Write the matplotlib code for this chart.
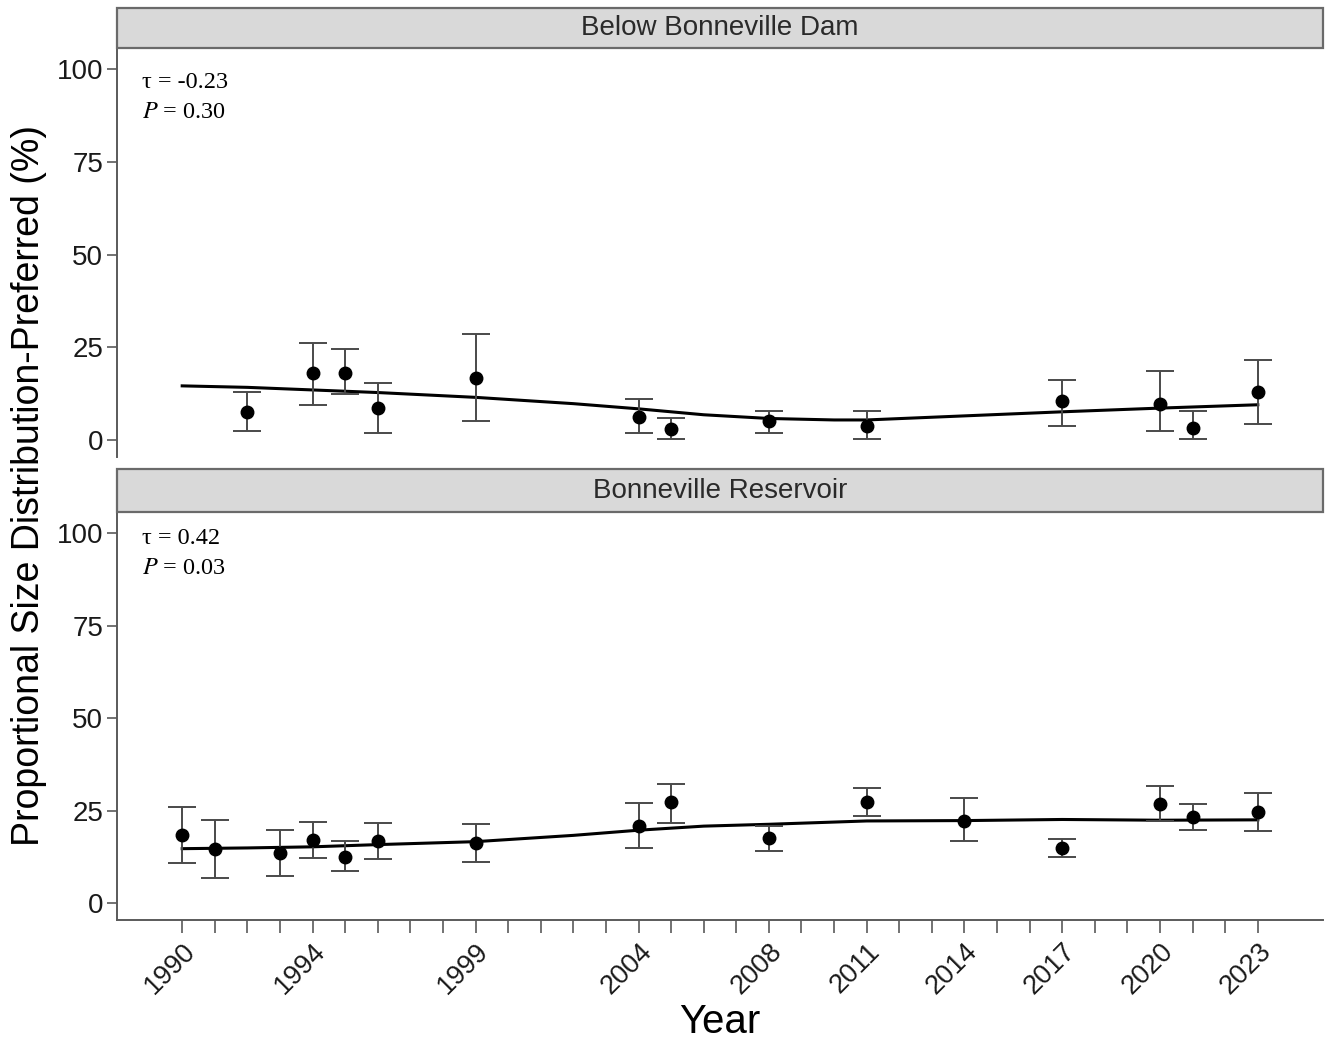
import numpy as np
import matplotlib
matplotlib.use('Agg')
import matplotlib.pyplot as plt
from matplotlib.patches import Rectangle
from matplotlib.ticker import FixedLocator

plt.rcParams['font.family'] = ['Liberation Sans', 'DejaVu Sans']
plt.rcParams['mathtext.fontset'] = 'stix'

# ---------------- data ----------------
panels = ['Below Bonneville Dam', 'Bonneville Reservoir']
tau_txt = ['-0.23', '0.42']
p_txt = ['0.30', '0.03']

# Below Bonneville Dam
yr_dam = [1992, 1994, 1995, 1996, 1999, 2004, 2005, 2008, 2011, 2017, 2020, 2021, 2023]
psd_dam = [7.6, 18.2, 18.2, 8.7, 16.7, 6.3, 2.9, 5.0, 3.8, 10.4, 9.6, 3.2, 12.9]
hi_dam = [13.0, 26.3, 24.5, 15.5, 28.6, 11.0, 6.0, 7.9, 7.7, 16.2, 18.7, 7.7, 21.6]
lo_dam = [2.4, 9.5, 12.3, 2.0, 5.0, 2.0, 0.2, 2.0, 0.2, 3.8, 2.4, 0.2, 4.2]

# Bonneville Reservoir
yr_res = [1990, 1991, 1993, 1994, 1995, 1996, 1999, 2004, 2005, 2008, 2011, 2014, 2017, 2020, 2021, 2023]
psd_res = [18.3, 14.5, 13.6, 17.0, 12.5, 16.8, 16.3, 20.9, 27.3, 17.5, 27.3, 22.3, 14.8, 26.9, 23.2, 24.7]
hi_res = [25.9, 22.4, 19.7, 22.0, 16.8, 21.7, 21.4, 27.1, 32.2, 20.9, 31.2, 28.3, 17.2, 31.6, 26.7, 29.9]
lo_res = [10.7, 6.7, 7.4, 12.2, 8.7, 11.9, 11.0, 15.0, 21.7, 14.1, 23.6, 16.8, 12.5, 22.2, 19.7, 19.5]

# smoothed trend lines
trend_yr = [1990, 1992, 1994, 1996, 1999, 2002, 2004, 2006, 2008, 2010, 2011, 2014, 2017, 2020, 2023]
trend_dam = [14.6, 14.2, 13.5, 12.8, 11.5, 9.8, 8.4, 6.8, 5.8, 5.4, 5.4, 6.5, 7.6, 8.6, 9.5]
trend_res = [14.7, 14.9, 15.2, 15.8, 16.6, 18.3, 19.7, 20.8, 21.3, 21.9, 22.2, 22.3, 22.6, 22.4, 22.5]

xticks = [1990, 1994, 1999, 2004, 2008, 2011, 2014, 2017, 2020, 2023]
minor_years = list(range(1990, 2024))
yticks = [0, 25, 50, 75, 100]

W, H = 1325, 1044
fig = plt.figure(figsize=(W / 100, H / 100), dpi=100)

def fx(px):
    return px / W

def fy(py):
    return 1 - py / H

left, right = 117, 1323
ax_boxes = [(48, 457), (512, 920)]
strip_boxes = [(8, 48), (469, 512)]
note_rows = [(83, 112), (539, 568)]

series = [(yr_dam, psd_dam, lo_dam, hi_dam, trend_dam),
          (yr_res, psd_res, lo_res, hi_res, trend_res)]

spine_col = '#5a5a5a'
axes = []
for i in range(2):
    top, bot = ax_boxes[i]
    ax = fig.add_axes([fx(left), fy(bot), fx(right - left), (bot - top) / H])
    axes.append(ax)
    yrs, psd, lo, hi, tr = series[i]
    yrs = np.array(yrs)
    psd = np.array(psd)
    err = [psd - np.array(lo), np.array(hi) - psd]

    ax.plot(trend_yr, tr, color='black', lw=2.2, zorder=2)
    ax.errorbar(yrs, psd, yerr=err, fmt='none', ecolor='#4a4a4a', elinewidth=1.4,
                capsize=10, capthick=1.4, zorder=3)
    ax.plot(yrs, psd, 'o', color='black', ms=9, zorder=4)

    ax.set_xlim(1988, 2025)
    ax.set_ylim(-4.6, 105.8)
    ax.set_yticks(yticks)
    ax.tick_params(axis='y', labelsize=20, length=7, width=1.2, color=spine_col, pad=3,
                   labelcolor='#1a1a1a')

    for s in ['top', 'right']:
        ax.spines[s].set_visible(False)
    ax.spines['left'].set_color(spine_col)
    ax.spines['left'].set_linewidth(1.4)

    # tau / P annotation
    r1, r2 = note_rows[i]
    fig.text(fx(142), fy(r1), '\u03c4 = ' + tau_txt[i], fontsize=17.5,
             family='Liberation Serif', va='center', ha='left')
    fig.text(fx(142), fy(r2), '$P$ = ' + p_txt[i], fontsize=17.5,
             family='Liberation Serif', va='center', ha='left')

    # strip header
    st, sb = strip_boxes[i]
    rect = Rectangle((fx(left), fy(sb)), fx(right - left), (sb - st) / H,
                     transform=fig.transFigure, facecolor='#d9d9d9',
                     edgecolor='#6a6a6a', lw=1.6)
    fig.patches.append(rect)
    fig.text(fx((left + right) / 2), fy((st + sb) / 2), panels[i], ha='center',
             va='center', fontsize=20, color='#2a2a2a')

# top panel: no x axis
axes[0].spines['bottom'].set_visible(False)
axes[0].tick_params(axis='x', bottom=False, labelbottom=False)

# bottom panel x axis
ax = axes[1]
ax.spines['bottom'].set_color(spine_col)
ax.spines['bottom'].set_linewidth(1.4)
ax.set_xticks(xticks)
ax.xaxis.set_minor_locator(FixedLocator(minor_years))
ax.tick_params(axis='x', which='both', length=9, width=1.2, color=spine_col)
ax.tick_params(axis='x', which='major', labelsize=19.5, pad=4, labelcolor='#1a1a1a')
for lab in ax.get_xticklabels():
    lab.set_rotation(45)
    lab.set_ha('right')
    lab.set_va('top')
    lab.set_rotation_mode('anchor')

fig.text(fx(720), fy(1022), 'Year', ha='center', va='center', fontsize=29)
fig.text(fx(29), fy(485), 'Proportional Size Distribution-Preferred (%)', ha='center',
         va='center', rotation=90, fontsize=27)

fig.savefig('out.png', dpi=100)
